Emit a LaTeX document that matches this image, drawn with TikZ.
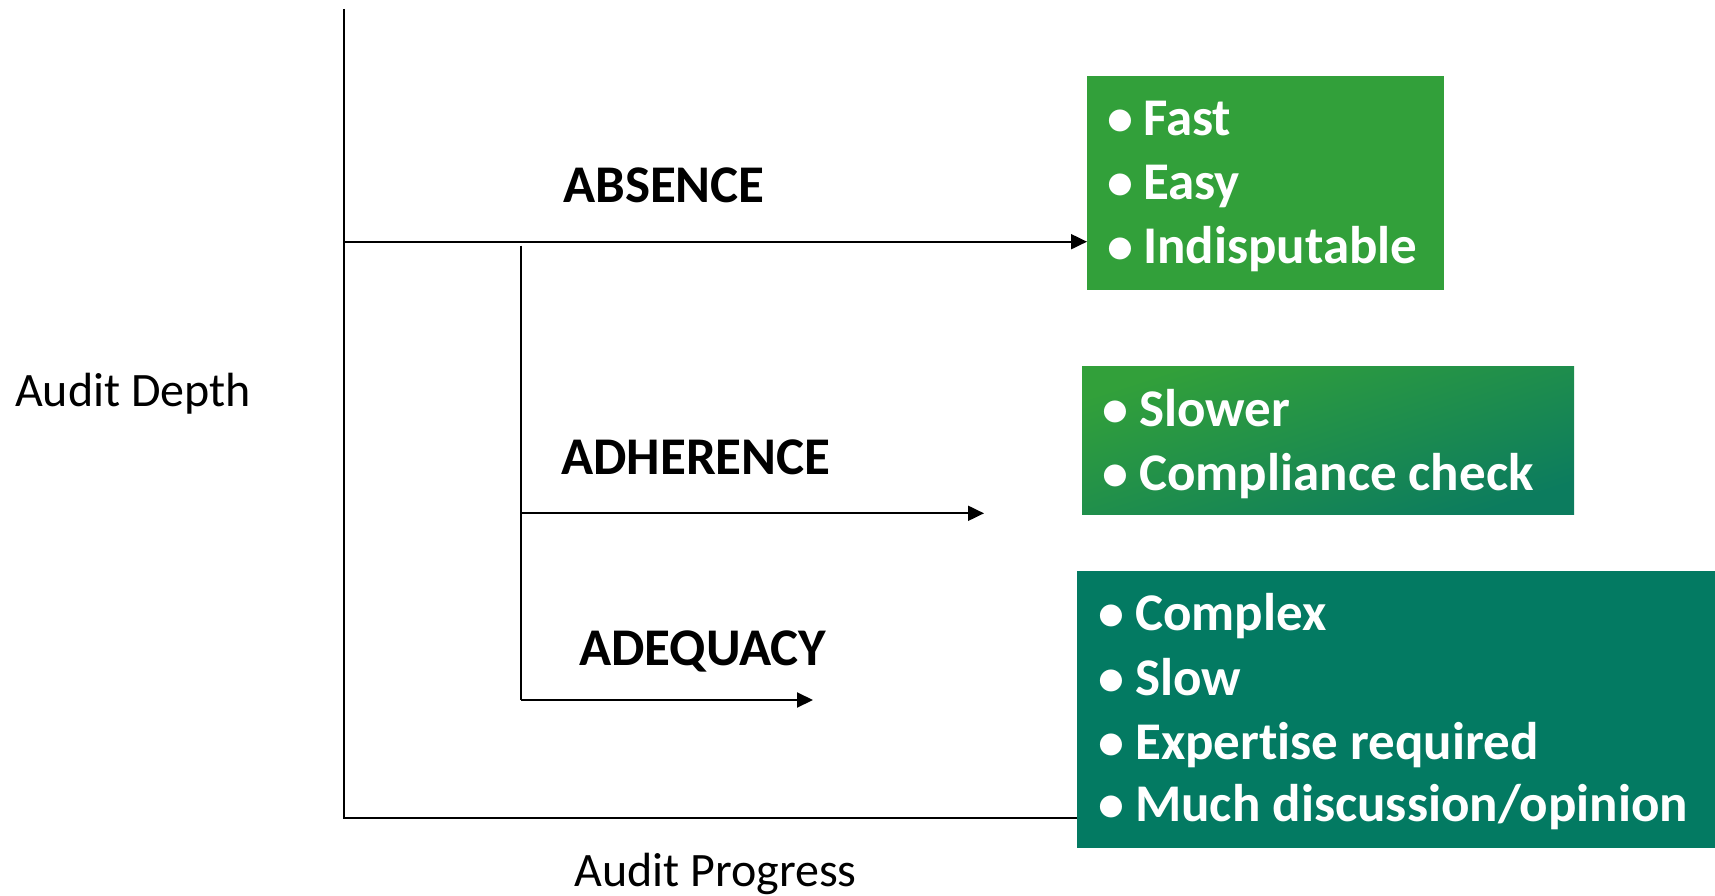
\documentclass[tikz,border=0pt]{standalone}
\usepackage{fontspec}
\setmainfont{Carlito}[Ligatures={NoCommon,NoRare,NoContextual}]
\usetikzlibrary{arrows.meta}
\definecolor{gA}{RGB}{50,160,58}
\definecolor{gB}{RGB}{12,124,94}
\definecolor{gT}{RGB}{3,122,98}
\begin{document}
\begin{tikzpicture}[x=1pt,y=-1pt,
  line/.style={line width=2pt,black},
  arr/.style={line,-{Triangle[length=16pt,width=15pt]}},
  lbl/.style={font=\fontsize{53}{64}\selectfont\bfseries,inner sep=0pt,anchor=base west},
  axlbl/.style={font=\fontsize{48}{58}\selectfont,inner sep=0pt,anchor=base west},
  panel/.style={inner sep=0pt,anchor=north west},
  bul/.style={font=\fontsize{52}{62}\selectfont\bfseries,text=white,inner sep=0pt,anchor=base},
  item/.style={font=\fontsize{53}{64}\selectfont\bfseries,text=white,inner sep=0pt,anchor=base west}]
\useasboundingbox (0,0) rectangle (1715,896);

% axes
\coordinate (top) at (344,9);
\coordinate (origin) at (344,818);
\node[panel,fill=gT,minimum width=638pt,minimum height=277pt] (b3) at (1077,571) {};
\draw[line] (top) -- (origin) -- (b3.west |- origin);

% panels
\node[panel,fill=gA,minimum width=357pt,minimum height=214pt] (b1) at (1087,76) {};
\node[panel,top color=gA,bottom color=gB,shading angle=18,minimum width=492pt,minimum height=148pt] (b2) at (1082,366) {};

% connectors
\coordinate (aS) at (344,241.7);
\draw[arr] (aS) -- (b1.west |- aS);
\coordinate (iT) at (521,245.7);
\coordinate (iB) at (521,700);
\draw[line] (iT) -- (iB);
\coordinate (hS) at (521,513.3);
\coordinate (hE) at (984,513.3);
\draw[arr] (hS) -- (hE);
\coordinate (qE) at (813,700);
\draw[arr] (iB) -- (qE);

% labels
\node[lbl] (lAbs) at (563,202.3) {ABSENCE};
\node[lbl] (lAdh) at (561,474.3) {ADHERENCE};
\node[lbl] (lAdq) at (579,665) {ADEQUACY};
\node[axlbl] (lDepth) at (15,406.7) {Audit Depth};
\node[axlbl] (lProg) at (574,886) {Audit Progress};

% box 1
\node[bul] (p1a) at (1120,136) {\textbullet};
\node[item] (t1a) at (1143,136) {Fast};
\node[bul] (p1b) at (1120,199.5) {\textbullet};
\node[item] (t1b) at (1143,199.5) {Easy};
\node[bul] (p1c) at (1120,263.3) {\textbullet};
\node[item] (t1c) at (1143,263.3) {Indisputable};

% box 2
\node[bul] (p2a) at (1115,426) {\textbullet};
\node[item] (t2a) at (1139,426) {Slower};
\node[bul] (p2b) at (1115,490) {\textbullet};
\node[item] (t2b) at (1139,490) {Compliance check};

% box 3
\node[bul] (p3a) at (1111,630.7) {\textbullet};
\node[item] (t3a) at (1135,630.7) {Complex};
\node[bul] (p3b) at (1111,695) {\textbullet};
\node[item] (t3b) at (1135,695) {Slow};
\node[bul] (p3c) at (1111,759.3) {\textbullet};
\node[item] (t3c) at (1135,759.3) {Expertise required};
\node[bul] (p3d) at (1111,821.7) {\textbullet};
\node[item] (t3d) at (1135,821.7) {Much discussion/opinion};
\end{tikzpicture}
\end{document}
